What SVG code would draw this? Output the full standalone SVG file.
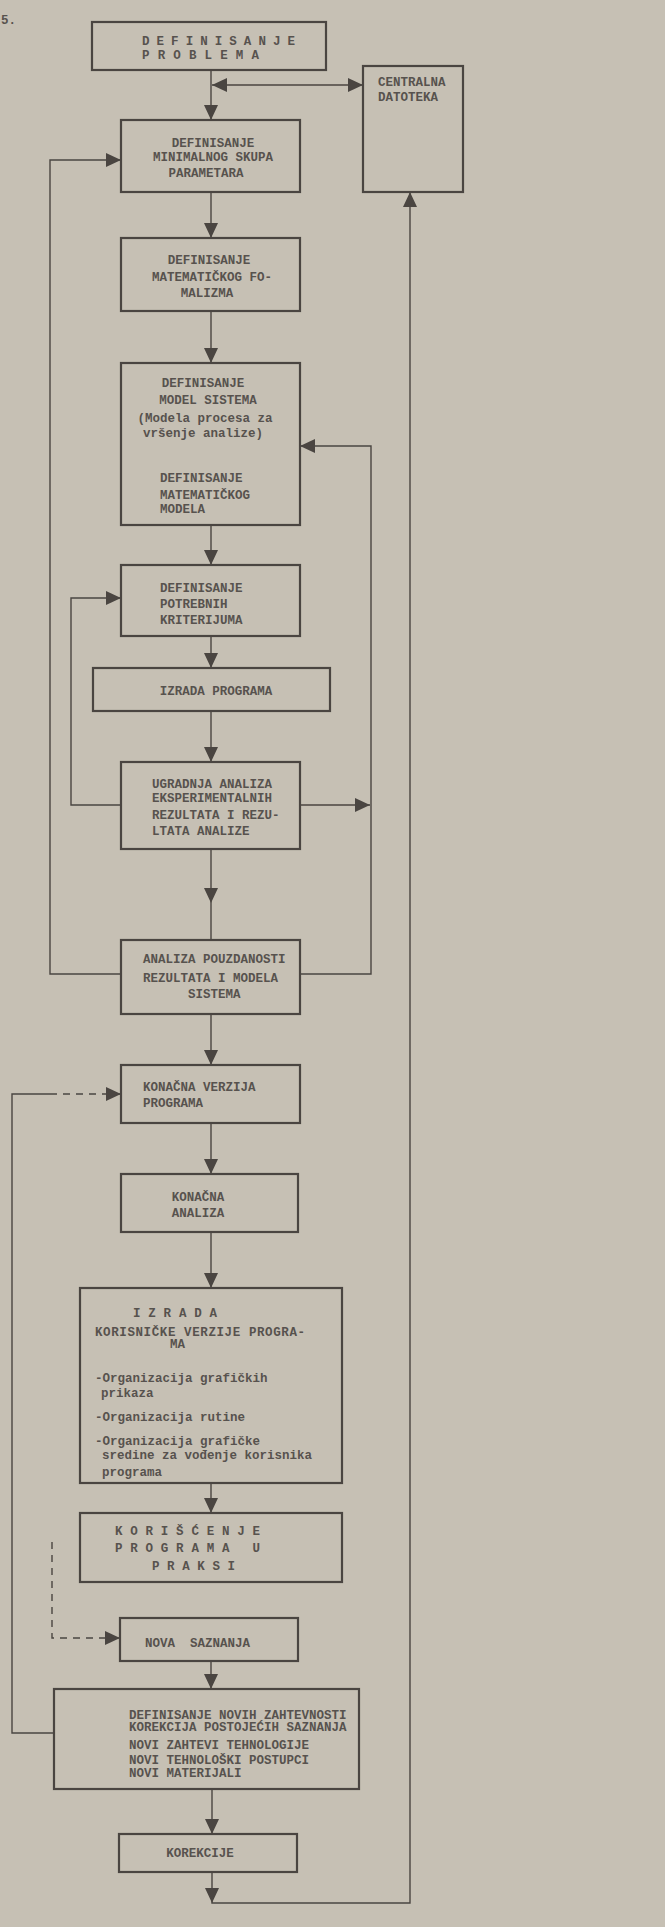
<svg xmlns="http://www.w3.org/2000/svg" width="665" height="1927" viewBox="0 0 665 1927">
<style>
.bg{fill:#c6c0b4}
.box{fill:none;stroke:#4a4541;stroke-width:2.2}
.ln{fill:none;stroke:#4a4541;stroke-width:1.4}
.dash{fill:none;stroke:#4a4541;stroke-width:1.4;stroke-dasharray:7,6}
.ah{fill:#4a4541}
text{font-family:"Liberation Mono","DejaVu Sans Mono",monospace;font-size:12.5px;font-weight:bold;fill:#57524e}
.c{text-anchor:middle}
</style>
<defs>
<path id="ad" d="M-7,-15 L7,-15 L0,0 Z"/>
</defs>
<rect class="bg" x="0" y="0" width="665" height="1927"/>
<text x="1" y="24">5.</text>

<g id="connectors">
<path class="ln" d="M211,70 V120"/>
<path class="ln" d="M212,85 H363"/>
<path class="ln" d="M121,974 H50 V160 H121"/>
<path class="ln" d="M211,192 V238"/>
<path class="ln" d="M211,311 V363"/>
<path class="ln" d="M300,974 H371 V446 H300"/>
<path class="ln" d="M211,525 V565"/>
<path class="ln" d="M121,805 H71 V598 H121"/>
<path class="ln" d="M211,636 V668"/>
<path class="ln" d="M211,711 V762"/>
<path class="ln" d="M300,805 H370"/>
<path class="ln" d="M211,849 V940"/>
<path class="ln" d="M211,1014 V1065"/>
<path class="dash" d="M50,1094 H121"/>
<path class="ln" d="M50,1094 H12 V1733 H54"/>
<path class="ln" d="M211,1123 V1174"/>
<path class="ln" d="M211,1232 V1288"/>
<path class="ln" d="M211,1483 V1513"/>
<path class="dash" d="M52,1542 V1638 H120"/>
<path class="ln" d="M211,1661 V1689"/>
<path class="ln" d="M212,1789 V1834"/>
<path class="ln" d="M212,1872 V1903 H410 V192"/>
<use href="#ad" class="ah" x="211" y="120"/>
<use href="#ad" class="ah" transform="translate(212,85) rotate(90)"/>
<use href="#ad" class="ah" transform="translate(363,85) rotate(-90)"/>
<use href="#ad" class="ah" transform="translate(121,160) rotate(-90)"/>
<use href="#ad" class="ah" x="211" y="238"/>
<use href="#ad" class="ah" transform="translate(410,192) rotate(180)"/>
<use href="#ad" class="ah" x="211" y="363"/>
<use href="#ad" class="ah" transform="translate(300,446) rotate(90)"/>
<use href="#ad" class="ah" x="211" y="565"/>
<use href="#ad" class="ah" transform="translate(121,598) rotate(-90)"/>
<use href="#ad" class="ah" x="211" y="668"/>
<use href="#ad" class="ah" x="211" y="762"/>
<use href="#ad" class="ah" transform="translate(370,805) rotate(-90)"/>
<use href="#ad" class="ah" x="211" y="903"/>
<use href="#ad" class="ah" x="211" y="1065"/>
<use href="#ad" class="ah" transform="translate(121,1094) rotate(-90)"/>
<use href="#ad" class="ah" x="211" y="1174"/>
<use href="#ad" class="ah" x="211" y="1288"/>
<use href="#ad" class="ah" x="211" y="1513"/>
<use href="#ad" class="ah" transform="translate(120,1638) rotate(-90)"/>
<use href="#ad" class="ah" x="211" y="1689"/>
<use href="#ad" class="ah" x="212" y="1834"/>
<use href="#ad" class="ah" x="212" y="1903"/>
</g>

<g id="n1">
<rect class="box" x="92" y="22" width="234" height="48"/>
<text x="142" y="45" textLength="153">D E F I N I S A N J E</text>
<text x="142" y="59" textLength="117">P R O B L E M A</text>
</g>

<g id="n_centralna">
<rect class="box" x="363" y="66" width="100" height="126"/>
<text x="378" y="86">CENTRALNA</text>
<text x="378" y="101">DATOTEKA</text>
</g>

<g id="n2">
<rect class="box" x="121" y="120" width="179" height="72"/>
<text class="c" x="213" y="147">DEFINISANJE</text>
<text class="c" x="213" y="161">MINIMALNOG SKUPA</text>
<text class="c" x="206" y="177">PARAMETARA</text>
</g>

<g id="n3">
<rect class="box" x="121" y="238" width="179" height="73"/>
<text class="c" x="209" y="264">DEFINISANJE</text>
<text class="c" x="212" y="281">MATEMATIČKOG FO-</text>
<text class="c" x="207" y="297">MALIZMA</text>
</g>

<g id="n4">
<rect class="box" x="121" y="363" width="179" height="162"/>
<text class="c" x="203" y="387">DEFINISANJE</text>
<text class="c" x="208" y="404">MODEL SISTEMA</text>
<text class="c" x="205" y="422">(Modela procesa za</text>
<text class="c" x="203" y="437">vršenje analize)</text>
<text x="160" y="482">DEFINISANJE</text>
<text x="160" y="499">MATEMATIČKOG</text>
<text x="160" y="513">MODELA</text>
</g>

<g id="n5">
<rect class="box" x="121" y="565" width="179" height="71"/>
<text x="160" y="592">DEFINISANJE</text>
<text x="160" y="608">POTREBNIH</text>
<text x="160" y="624">KRITERIJUMA</text>
</g>

<g id="n6">
<rect class="box" x="93" y="668" width="237" height="43"/>
<text class="c" x="216" y="695">IZRADA PROGRAMA</text>
</g>

<g id="n7">
<rect class="box" x="121" y="762" width="179" height="87"/>
<text x="152" y="788">UGRADNJA ANALIZA</text>
<text x="152" y="802">EKSPERIMENTALNIH</text>
<text x="152" y="819">REZULTATA I REZU-</text>
<text x="152" y="835">LTATA ANALIZE</text>
</g>

<g id="n8">
<rect class="box" x="121" y="940" width="179" height="74"/>
<text x="143" y="963">ANALIZA POUZDANOSTI</text>
<text x="143" y="982">REZULTATA I MODELA</text>
<text x="188" y="998">SISTEMA</text>
</g>

<g id="n9">
<rect class="box" x="121" y="1065" width="179" height="58"/>
<text x="143" y="1091">KONAČNA VERZIJA</text>
<text x="143" y="1107">PROGRAMA</text>
</g>

<g id="n10">
<rect class="box" x="121" y="1174" width="177" height="58"/>
<text class="c" x="198" y="1201">KONAČNA</text>
<text class="c" x="198" y="1217">ANALIZA</text>
</g>

<g id="n11">
<rect class="box" x="80" y="1288" width="262" height="195"/>
<text x="133" y="1317" textLength="84">I Z R A D A</text>
<text x="95" y="1336" textLength="210">KORISNIČKE VERZIJE PROGRA-</text>
<text x="170" y="1348">MA</text>
<text x="95" y="1382">-Organizacija grafičkih</text>
<text x="101" y="1397">prikaza</text>
<text x="95" y="1421">-Organizacija rutine</text>
<text x="95" y="1445">-Organizacija grafičke</text>
<text x="102" y="1459">sredine za vođenje korisnika</text>
<text x="102" y="1476">programa</text>
</g>

<g id="n12">
<rect class="box" x="80" y="1513" width="262" height="69"/>
<text x="115" y="1535" textLength="145">K O R I Š Ć E N J E</text>
<text x="115" y="1552" textLength="145" xml:space="preserve">P R O G R A M A   U</text>
<text x="152" y="1570" textLength="83">P R A K S I</text>
</g>

<g id="n13">
<rect class="box" x="120" y="1618" width="178" height="43"/>
<text x="145" y="1647" xml:space="preserve">NOVA  SAZNANJA</text>
</g>

<g id="n14">
<rect class="box" x="54" y="1689" width="305" height="100"/>
<text x="129" y="1719">DEFINISANJE NOVIH ZAHTEVNOSTI</text>
<text x="129" y="1731">KOREKCIJA POSTOJEĆIH SAZNANJA</text>
<text x="129" y="1749">NOVI ZAHTEVI TEHNOLOGIJE</text>
<text x="129" y="1764">NOVI TEHNOLOŠKI POSTUPCI</text>
<text x="129" y="1777">NOVI MATERIJALI</text>
</g>

<g id="n15">
<rect class="box" x="119" y="1834" width="178" height="38"/>
<text class="c" x="200" y="1857">KOREKCIJE</text>
</g>
</svg>
